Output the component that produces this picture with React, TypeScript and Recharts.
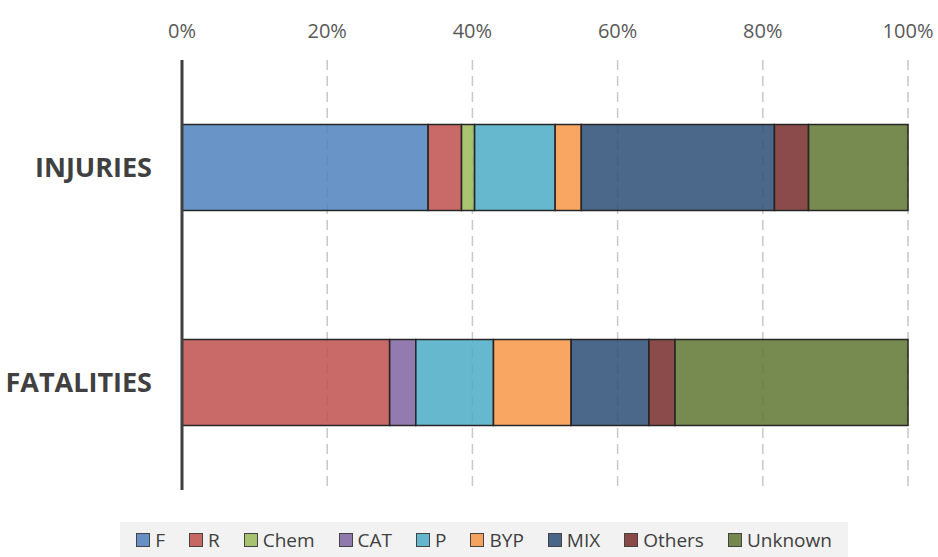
import { BarChart, Bar, XAxis, YAxis, CartesianGrid } from 'recharts';

const categories = ['INJURIES', 'FATALITIES'];
const seriesNames = ['F', 'R', 'Chem', 'CAT', 'P', 'BYP', 'MIX', 'Others', 'Unknown'];
// share of each cause, in percent
const injuries = [33.9, 4.6, 1.8, 0, 11.1, 3.6, 26.6, 4.7, 13.7];
const fatalities = [0, 28.6, 0, 3.6, 10.7, 10.7, 10.7, 3.6, 32.1];
const xTicks = [0, 20, 40, 60, 80, 100];

const colors = ['#4F81BD', '#C0504D', '#9BBB59', '#8064A2', '#4BACC6', '#F79646', '#2C4D75', '#772C2A', '#5F7530'];

const rows = [injuries, fatalities];
const data = categories.map((name, i) => {
  const row: Record<string, string | number> = { name };
  seriesNames.forEach((s, j) => {
    row[s] = rows[i][j];
  });
  return row;
});

const font = '"Open Sans", sans-serif';

function LegendBox() {
  return (
    <div
      style={{
        position: 'absolute',
        left: 120,
        top: 522,
        width: 728,
        height: 35,
        background: '#f2f2f2',
        display: 'flex',
        alignItems: 'center',
        justifyContent: 'center',
        gap: 24,
        fontFamily: font,
        fontSize: 19,
        color: '#404040',
      }}
    >
      {seriesNames.map((s, i) => (
        <div key={s} style={{ display: 'flex', alignItems: 'center' }}>
          <span
            style={{
              display: 'inline-block',
              width: 12,
              height: 12,
              background: colors[i],
              opacity: 0.85,
              border: '1px solid #262626',
              marginRight: 5,
            }}
          />
          <span>{s}</span>
        </div>
      ))}
    </div>
  );
}

export default function App() {
  return (
    <div style={{ position: 'absolute', left: 0, top: 0, width: 938, height: 557, background: '#fff' }}>
      <BarChart
        width={938}
        height={557}
        data={data}
        layout="vertical"
        barCategoryGap="30%"
        margin={{ top: 0, right: 30, left: 0, bottom: 67 }}
        style={{ fontFamily: font }}
      >
        <CartesianGrid
          horizontal={false}
          vertical={true}
          stroke="#c8c8c8"
          strokeWidth={1.5}
          strokeDasharray="10 6"
        />
        <XAxis
          type="number"
          orientation="top"
          domain={[0, 100]}
          ticks={xTicks}
          height={60}
          axisLine={false}
          tickLine={false}
          tickSize={0}
          tickMargin={22}
          tickFormatter={(v) => `${v}%`}
          tick={{ fontSize: 20, fill: '#595959' }}
        />
        <YAxis
          type="category"
          dataKey="name"
          width={182}
          tickLine={false}
          tickSize={0}
          tickMargin={30}
          axisLine={{ stroke: '#404040', strokeWidth: 3 }}
          tick={{ fontSize: 27, fontWeight: 700, fill: '#404040' }}
        />
        {seriesNames.map((s, i) => (
          <Bar
            key={s}
            dataKey={s}
            stackId="a"
            fill={colors[i]}
            fillOpacity={0.85}
            stroke="#262626"
            strokeWidth={1.5}
            isAnimationActive={false}
          />
        ))}
      </BarChart>
      <LegendBox />
    </div>
  );
}
